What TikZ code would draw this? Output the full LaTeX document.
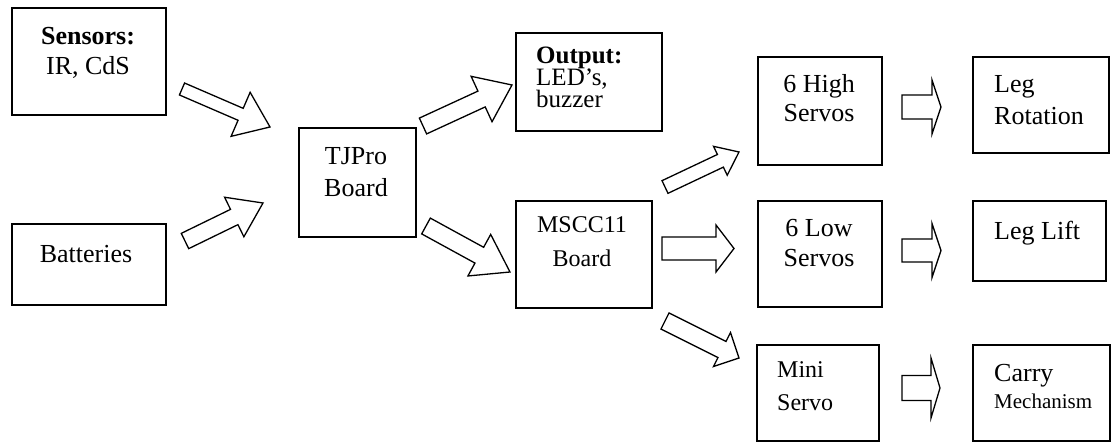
\documentclass[tikz,border=0pt]{standalone}
\usepackage{fontspec}
\setmainfont{Liberation Serif}
\usetikzlibrary{calc}
\tikzset{
  box/.style={draw, line width=1.6pt, anchor=north west, inner sep=0pt, outer sep=0pt},
  txt/.style={anchor=base, inner sep=0pt, font=\fontsize{26}{30}\selectfont},
  barrowst/.style={draw, line width=1.3pt, fill=white, line join=miter},
}
\newcommand\blockarr[5]{%
  \coordinate (hb) at ($(#2)!#5!(#1)$);
  \draw[barrowst] ($(#1)!#3!90:(#2)$) -- ($(hb)!#3!-90:(#1)$) -- ($(hb)!#4!-90:(#1)$) -- (#2)
    -- ($(hb)!#4!90:(#1)$) -- ($(hb)!#3!90:(#1)$) -- ($(#1)!#3!-90:(#2)$) -- cycle;
}
\begin{document}
\begin{tikzpicture}[x=1pt,y=-1pt]
\useasboundingbox (0,0) rectangle (1111,443);
% boxes
\node[box, minimum width=154pt, minimum height=107pt] (sensors) at (12,8) {};
\node[box, minimum width=154pt, minimum height=81pt] (batt) at (12,224) {};
\node[box, minimum width=117pt, minimum height=109pt] (tjpro) at (299,128) {};
\node[box, minimum width=146pt, minimum height=98pt] (output) at (516,33) {};
\node[box, minimum width=136pt, minimum height=107pt] (mscc) at (516,201) {};
\node[box, minimum width=124pt, minimum height=108pt] (high) at (758,57) {};
\node[box, minimum width=124pt, minimum height=106pt] (low) at (758,201) {};
\node[box, minimum width=122pt, minimum height=96pt] (mini) at (757,345) {};
\node[box, minimum width=136pt, minimum height=96pt] (legrot) at (973,57) {};
\node[box, minimum width=133pt, minimum height=80pt] (leglift) at (973,201) {};
\node[box, minimum width=137pt, minimum height=96pt] (carry) at (973,345) {};
% texts (base anchor = baseline of the last line)
\node[txt, align=center] (sensorsT) at (88,75) {\textbf{Sensors:}\\IR, CdS};
\node[txt] (battT) at (86,263) {Batteries};
\node[txt, align=center, font=\fontsize{26}{32}\selectfont] (tjproT) at (356,197) {TJPro\\Board};
\node[txt, align=left, anchor=base west, font=\fontsize{25}{22}\selectfont] (outputT) at (536,108) {\textbf{Output:}\\LED’s,\\buzzer};
\node[txt, align=center, font=\fontsize{24}{34}\selectfont] (msccT) at (582,267) {MSCC11\\Board};
\node[txt, align=center, font=\fontsize{26}{29}\selectfont] (highT) at (819,122) {6 High\\Servos};
\node[txt, align=center, font=\fontsize{26}{30}\selectfont] (lowT) at (819,267) {6 Low\\Servos};
\node[txt, align=left, anchor=base west, font=\fontsize{26}{32}\selectfont] (legrotT) at (994,125) {Leg\\Rotation};
\node[txt, anchor=base west] (legliftT) at (994,240) {Leg Lift};
\node[txt, align=left, anchor=base west, font=\fontsize{24}{33}\selectfont] (miniT) at (777,410) {Mini\\Servo};
\node[txt, align=left, anchor=base west, font=\fontsize{26}{26}\selectfont] (carryT) at (994,408) {Carry\\{\fontsize{21}{26}\selectfont Mechanism}};
% arrow end points
\coordinate (a1s) at (182,89);    \coordinate (a1t) at (270,127);
\coordinate (a2s) at (185,241);   \coordinate (a2t) at (263,203);
\coordinate (a3s) at (423,126);   \coordinate (a3t) at (512,85);
\coordinate (a4s) at (426,226);   \coordinate (a4t) at (510,272);
\coordinate (a5s) at (665,187);   \coordinate (a5t) at (739,152);
\coordinate (a6s) at (662,248.5); \coordinate (a6t) at (734,248.5);
\coordinate (a7s) at (665,321);   \coordinate (a7t) at (739,358);
\coordinate (r1s) at (902,107);   \coordinate (r1t) at (941,107);
\coordinate (r2s) at (902,250.5); \coordinate (r2t) at (941,250.5);
\coordinate (r3s) at (902,388);   \coordinate (r3t) at (940,388);
% block arrows
\blockarr{a1s}{a1t}{6.5pt}{24pt}{32pt}
\blockarr{a2s}{a2t}{8.5pt}{22pt}{32pt}
\blockarr{a3s}{a3t}{8.7pt}{25pt}{33.5pt}
\blockarr{a4s}{a4t}{9pt}{23.7pt}{35pt}
\blockarr{a5s}{a5t}{7pt}{16pt}{20.6pt}
\blockarr{a6s}{a6t}{11.5pt}{23.5pt}{18pt}
\blockarr{a7s}{a7t}{9pt}{19pt}{19pt}
\blockarr{r1s}{r1t}{12pt}{27pt}{9pt}
\blockarr{r2s}{r2t}{11.5pt}{27pt}{9pt}
\blockarr{r3s}{r3t}{12.5pt}{30pt}{9pt}
\end{tikzpicture}
\end{document}
